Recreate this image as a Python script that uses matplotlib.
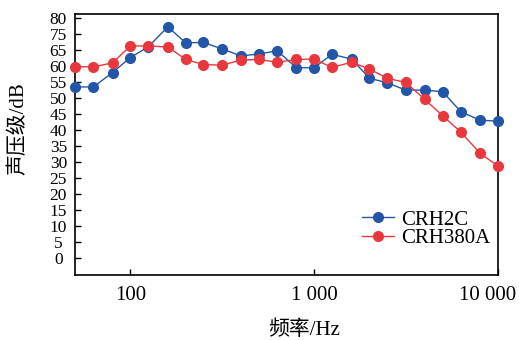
import numpy as np
import matplotlib
matplotlib.use("Agg")
import matplotlib.pyplot as plt
import matplotlib.transforms as mtransforms
from matplotlib.ticker import FixedLocator, NullLocator

# 1/3 octave band centre frequencies (Hz)
freqs = [50, 63, 80, 100, 125, 160, 200, 250, 315, 400, 500, 630,
         800, 1000, 1250, 1600, 2000, 2500, 3150, 4000, 5000, 6300, 8000, 10000]

# sound pressure level (dB)
crh2c = [53.5, 53.5, 58.0, 62.7, 66.0, 72.3, 67.3, 67.4, 65.4, 63.2, 63.8, 64.8,
         59.5, 59.5, 63.7, 62.2, 56.2, 54.8, 52.5, 52.5, 52.0, 45.7, 43.1, 42.8]
crh380a = [59.8, 59.8, 61.0, 66.3, 66.3, 66.0, 62.1, 60.5, 60.3, 61.9, 62.1, 61.2,
           62.1, 62.2, 59.6, 61.2, 59.1, 56.2, 54.9, 49.6, 44.5, 39.3, 32.7, 28.8]

# y tick labels as printed in the figure (the "70" label is missing there)
ytick_pos = [0, 5, 10, 15, 20, 25, 30, 35, 40, 45, 50, 55, 60, 65, 70, 75]
ytick_lab = ['0', '5', '10', '15', '20', '25', '30', '35', '40', '45', '50',
             '55', '60', '65', '75', '80']
xtick_pos = [100, 1000, 10000]
xtick_lab = ['100', '1 000', '10 000']

plt.rcParams['font.family'] = ['Liberation Serif', 'Noto Sans CJK SC']
FS = 15

fig = plt.figure(figsize=(5.19, 3.40), dpi=100)
ax = fig.add_axes([0.1445, 0.1912, 0.815, 0.7676])

ax.plot(freqs, crh2c, '-o', color='#2356a8', lw=1.0, ms=7, label='CRH2C', clip_on=False, zorder=3)
ax.plot(freqs, crh380a, '-o', color='#e8383d', lw=1.0, ms=7, label='CRH380A', clip_on=False, zorder=3)

ax.set_xscale('log')
ax.set_xlim(50, 10000)
ax.set_ylim(-5.3, 76.3)

ax.xaxis.set_major_locator(FixedLocator(xtick_pos))
ax.xaxis.set_minor_locator(NullLocator())
ax.set_xticklabels(xtick_lab)
ax.set_yticks(ytick_pos)
ax.set_yticklabels(ytick_lab, ha='center')

ax.tick_params(axis='both', direction='in', length=4, width=1)
ax.tick_params(axis='x', pad=8, labelsize=FS)
ax.tick_params(axis='y', pad=12, labelsize=12.5)
for s in ax.spines.values():
    s.set_linewidth(1.2)

# last x label is pulled left so it stays inside the figure
lab = ax.get_xticklabels()[-1]
lab.set_transform(lab.get_transform() + mtransforms.ScaledTranslation(-0.10, 0, fig.dpi_scale_trans))

ax.set_xlabel('频率/Hz', fontsize=FS)
ax.xaxis.label.set_va('center')
ax.xaxis.set_label_coords(0.541, -0.211)
ax.set_ylabel('声压级/dB', fontsize=FS)
ax.yaxis.label.set_va('center')
ax.yaxis.set_label_coords(-0.132, 0.559)

ax.legend(loc='upper left', bbox_to_anchor=(362 / 519, 1 - 210 / 340),
          bbox_transform=fig.transFigure, frameon=False, fontsize=FS,
          handlelength=1.55, handletextpad=0.33, labelspacing=-0.05,
          borderpad=0, borderaxespad=0)

fig.savefig('out.png', dpi=100)
